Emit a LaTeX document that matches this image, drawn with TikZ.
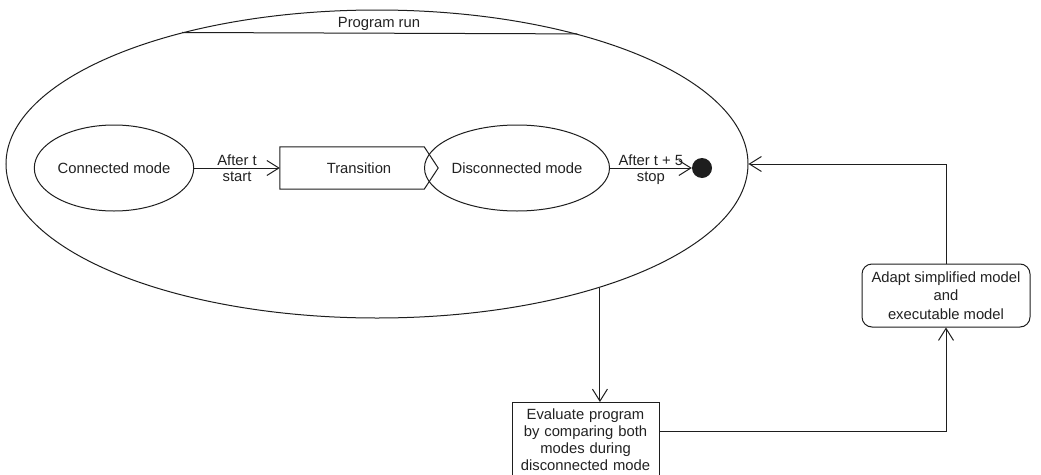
\documentclass[tikz,border=0pt]{standalone}
\usepackage{fontspec}
\setmainfont{Liberation Sans}
\usetikzlibrary{shapes.geometric,arrows.meta,calc}
\definecolor{ink}{HTML}{1E1E1E}
\definecolor{txt}{HTML}{222222}
\begin{document}
\begin{tikzpicture}[x=1pt,y=-1pt,
  every node/.style={font=\fontsize{14.8pt}{17pt}\selectfont, text=txt},
  ln/.style={draw=ink, line width=1pt},
  arr/.style={ln, -{Straight Barb[length=12pt,width=15pt,line width=1pt]}},
  state/.style={ln, ellipse, minimum width=158pt, minimum height=86pt, inner sep=0pt},
  lbl/.style={midway, inner sep=1.5pt},
]
\fill[white] (0,0) rectangle (1041,474);
\clip (0,0) rectangle (1041,474);

% enclosing activity with its title band
\node (prog) [ln, ellipse, minimum width=742pt, minimum height=308pt, inner sep=0pt] at (377,164) {};
\draw[ln] (prog.146.1) -- (prog.33.9);
\node (title) at (379,23.5) {Program run};

% states inside the program run
\node (conn) [state] at (114,168) {Connected mode};
\node (trans) [minimum width=158pt, minimum height=42pt, inner sep=0pt] at (359,168) {Transition};
\draw[ln] (trans.north west) -- ([xshift=-14pt]trans.north east) -- (trans.east)
  -- ([xshift=-14pt]trans.south east) -- (trans.south west) -- cycle;
\node (disc) [state] at (517,168) {Disconnected mode};
\node (stop) [circle, fill=ink, minimum size=20pt, inner sep=0pt] at (702,168) {};

% evaluation and adaptation steps
\node (eval) [ln, rectangle, text width=139pt, inner xsep=4pt, inner ysep=6pt, align=center, anchor=north]
  at (585.5,402) {Evaluate program\\by comparing both\\modes during\\disconnected mode};
\node (adapt) [ln, rounded corners=10pt, minimum width=168pt, minimum height=63pt, align=center,
  font=\fontsize{14.8pt}{18.5pt}\selectfont] at (946,295.5)
  {Adapt simplified model\\and\\executable model};

% connectors
\draw[arr] (conn) -- (trans)
  node[lbl, above] {After t} node[lbl, below, inner sep=3pt] {start};
\draw[arr] (disc) -- (stop)
  node[lbl, above] {After t + 5} node[lbl, below, inner sep=3pt] {stop};
\draw[arr] (prog.-29.3) -- (prog.-29.3 |- eval.north);
\draw[arr] ([yshift=7.5pt]eval.east) -| (adapt.south);
\draw[arr] (adapt.north) |- (prog.-0.6);
\end{tikzpicture}
\end{document}
